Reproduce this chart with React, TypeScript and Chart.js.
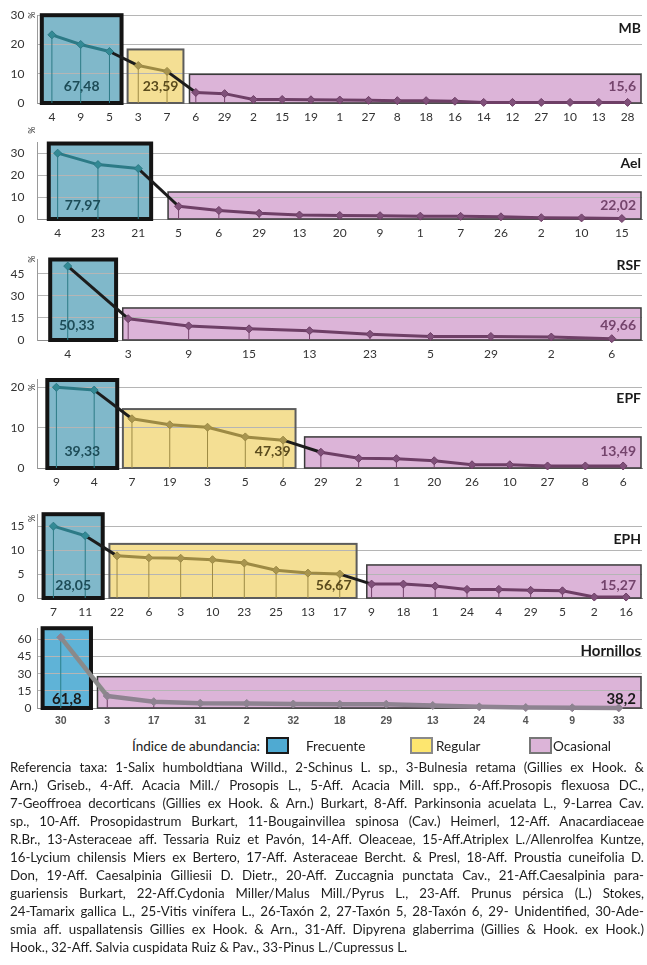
import React, { useEffect, useRef } from "react";
import { Chart, registerables } from "chart.js";
Chart.register(...registerables);

const W = 647;

// ---------------- DATA ----------------
const mbTaxa = ["4", "9", "5", "3", "7", "6", "29", "2", "15", "19", "1", "27", "8", "18", "16", "14", "12", "27", "10", "13", "28"];
const mbValues = [23.3, 20.0, 17.6, 12.8, 10.8, 3.6, 3.2, 1.2, 1.2, 1.1, 1.0, 0.9, 0.8, 0.8, 0.6, 0.2, 0.2, 0.2, 0.2, 0.2, 0.2];
const mbCounts = [3, 2, 16];
const mbTotals = ["67,48", "23,59", "15,6"];
const mbTicks = [0, 10, 20, 30];

const aelTaxa = ["4", "23", "21", "5", "6", "29", "13", "20", "9", "1", "7", "26", "2", "10", "15"];
const aelValues = [30.0, 24.8, 23.0, 5.8, 3.9, 2.6, 1.8, 1.6, 1.5, 1.3, 1.2, 1.0, 0.6, 0.5, 0.2];
const aelCounts = [3, 0, 12];
const aelTotals = ["77,97", "", "22,02"];
const aelTicks = [0, 10, 20, 30];

const rsfTaxa = ["4", "3", "9", "15", "13", "23", "5", "29", "2", "6"];
const rsfValues = [50.3, 14.5, 9.6, 7.6, 6.3, 3.9, 2.4, 2.4, 2.0, 0.9];
const rsfCounts = [1, 0, 9];
const rsfTotals = ["50,33", "", "49,66"];
const rsfTicks = [0, 15, 30, 45];

const epfTaxa = ["9", "4", "7", "19", "3", "5", "6", "29", "2", "1", "20", "26", "10", "27", "8", "6"];
const epfValues = [20.0, 19.3, 12.2, 10.7, 10.1, 7.7, 6.9, 3.9, 2.4, 2.3, 1.8, 0.8, 0.8, 0.5, 0.5, 0.5];
const epfCounts = [2, 5, 9];
const epfTotals = ["39,33", "47,39", "13,49"];
const epfTicks = [0, 10, 20];

const ephTaxa = ["7", "11", "22", "6", "3", "10", "23", "25", "13", "17", "9", "18", "1", "24", "4", "29", "5", "2", "16"];
const ephValues = [15.0, 13.0, 8.8, 8.4, 8.3, 8.0, 7.3, 5.8, 5.2, 5.0, 2.9, 2.9, 2.5, 1.8, 1.8, 1.6, 1.5, 0.2, 0.2];
const ephCounts = [2, 8, 9];
const ephTotals = ["28,05", "56,67", "15,27"];
const ephTicks = [0, 5, 10, 15];

const hoTaxa = ["30", "3", "17", "31", "2", "32", "18", "29", "13", "24", "4", "9", "33"];
const hoValues = [61.8, 10.5, 5.5, 4.2, 4.0, 3.5, 3.3, 3.3, 2.2, 1.0, 0.4, 0.2, 0.1];
const hoCounts = [1, 0, 12];
const hoTotals = ["61,8", "", "38,2"];
const hoTicks = [0, 15, 30, 45, 60];

const kinds = ["F", "R", "O"];
const legendTitle = "Índice de abundancia:";
const legendLabels = ["Frecuente", "Regular", "Ocasional"];

const captionLines = [
  "Referencia taxa: 1-Salix humboldtiana Willd., 2-Schinus L. sp., 3-Bulnesia retama (Gillies ex Hook. &",
  "Arn.) Griseb., 4-Aff. Acacia Mill./ Prosopis L., 5-Aff. Acacia Mill. spp., 6-Aff.Prosopis flexuosa DC.,",
  "7-Geoffroea decorticans (Gillies ex Hook. & Arn.) Burkart, 8-Aff. Parkinsonia acuelata L., 9-Larrea Cav.",
  "sp., 10-Aff. Prosopidastrum Burkart, 11-Bougainvillea spinosa (Cav.) Heimerl, 12-Aff. Anacardiaceae",
  "R.Br., 13-Asteraceae aff. Tessaria Ruiz et Pavón, 14-Aff. Oleaceae, 15-Aff.Atriplex L./Allenrolfea Kuntze,",
  "16-Lycium chilensis Miers ex Bertero, 17-Aff. Asteraceae Bercht. & Presl, 18-Aff. Proustia cuneifolia D.",
  "Don, 19-Aff. Caesalpinia Gilliesii D. Dietr., 20-Aff. Zuccagnia punctata Cav., 21-Aff.Caesalpinia para-",
  "guariensis Burkart, 22-Aff.Cydonia Miller/Malus Mill./Pyrus L., 23-Aff. Prunus pérsica (L.) Stokes,",
  "24-Tamarix gallica L., 25-Vitis vinífera L., 26-Taxón 2, 27-Taxón 5, 28-Taxón 6, 29- Unidentified, 30-Ade-",
  "smia aff. uspallatensis Gillies ex Hook. & Arn., 31-Aff. Dipyrena glaberrima (Gillies & Hook. ex Hook.)",
  "Hook., 32-Aff. Salvia cuspidata Ruiz & Pav., 33-Pinus L./Cupressus L.",
];

// ---------------- STYLES / LAYOUT ----------------
type KStyle = { fill: string; stroke: string; lw: number; line: string; point: string; label: string; drop: string };
const baseStyle: Record<string, KStyle> = {
  F: { fill: "#80b8ca", stroke: "#141414", lw: 4, line: "#2c7a86", point: "#338a95", label: "#1d4c57", drop: "#2c7a86" },
  R: { fill: "#f4df94", stroke: "#5c5c5c", lw: 2, line: "#9d8a44", point: "#a8954f", label: "#5a4b1d", drop: "#9d8a44" },
  O: { fill: "#dcb4d8", stroke: "#3a3a3a", lw: 1.5, line: "#6e3f66", point: "#80507a", label: "#74446c", drop: "#74446c" },
};
const hoStyle: Record<string, KStyle> = {
  F: { fill: "#5fb3d7", stroke: "#141414", lw: 4, line: "#8e8391", point: "#8e8391", label: "#1a1a1a", drop: "#2a7f8a" },
  R: baseStyle.R,
  O: { fill: "#dcb4d8", stroke: "#3a3a3a", lw: 1.5, line: "#8e8391", point: "#8e8391", label: "#1a1a1a", drop: "#6a3f62" },
};

type Panel = {
  name: string; taxa: string[]; values: number[]; counts: number[]; totals: string[]; ticks: number[];
  yMax: number; top: number; zero: number; titleAt: number; pctAt: number | null;
  boxes: (number | null)[][]; blueLabelX: number | null; lift: number; styles: Record<string, KStyle>;
  transition: string; lineWidth: number; tickPad: number; hornillos?: boolean;
};

const panels: Panel[] = [
  { name: "MB", taxa: mbTaxa, values: mbValues, counts: mbCounts, totals: mbTotals, ticks: mbTicks,
    yMax: 30, top: 13, zero: 103, titleAt: 25.4, pctAt: 30,
    boxes: [[-0.35, 2.42, 30], [2.63, 4.57, 18.3], [4.78, null, 9.8]], blueLabelX: null, lift: 17,
    styles: baseStyle, transition: "#1c1c1c", lineWidth: 3, tickPad: 13 },
  { name: "Ael", taxa: aelTaxa, values: aelValues, counts: aelCounts, totals: aelTotals, ticks: aelTicks,
    yMax: 35, top: 140, zero: 219, titleAt: 25.5, pctAt: 40.5,
    boxes: [[-0.22, 2.32, 34.4], [], [2.74, null, 12.3]], blueLabelX: 0.62, lift: 14,
    styles: baseStyle, transition: "#1c1c1c", lineWidth: 3, tickPad: 13 },
  { name: "RSF", taxa: rsfTaxa, values: rsfValues, counts: rsfCounts, totals: rsfTotals, ticks: rsfTicks,
    yMax: 55, top: 257, zero: 340, titleAt: 51, pctAt: 55,
    boxes: [[-0.29, 0.8, 54.8], [], [0.91, null, 21.8]], blueLabelX: 0.15, lift: 14.5,
    styles: baseStyle, transition: "#1c1c1c", lineWidth: 3, tickPad: 13 },
  { name: "EPF", taxa: epfTaxa, values: epfValues, counts: epfCounts, totals: epfTotals, ticks: epfTicks,
    yMax: 22, top: 377, zero: 468, titleAt: 17.2, pctAt: 20,
    boxes: [[-0.24, 1.61, 21.8], [1.76, 6.33, 14.6], [6.57, null, 7.7]], blueLabelX: null, lift: 16.5,
    styles: baseStyle, transition: "#1c1c1c", lineWidth: 3, tickPad: 13 },
  { name: "EPH", taxa: ephTaxa, values: ephValues, counts: ephCounts, totals: ephTotals, ticks: ephTicks,
    yMax: 17.5, top: 512, zero: 598, titleAt: 12.3, pctAt: 16.6,
    boxes: [[-0.31, 1.55, 17.5], [1.76, 9.53, 11.3], [9.85, null, 6.9]], blueLabelX: null, lift: 12.5,
    styles: baseStyle, transition: "#1c1c1c", lineWidth: 3, tickPad: 13 },
  { name: "Hornillos", taxa: hoTaxa, values: hoValues, counts: hoCounts, totals: hoTotals, ticks: hoTicks,
    yMax: 70, top: 628, zero: 708, titleAt: 49.6, pctAt: null,
    boxes: [[-0.39, 0.65, 69.8], [], [0.79, null, 27.4]], blueLabelX: null, lift: 9,
    styles: hoStyle, transition: "#8a8a8a", lineWidth: 4.5, tickPad: 6, hornillos: true },
];

const PAD_TOP = 18;
const X_AXIS_H = 24;

function kindIndex(p: Panel): string[] {
  const out: string[] = [];
  p.counts.forEach((n, g) => { for (let i = 0; i < n; i++) out.push(kinds[g]); });
  return out;
}

function boxRects(p: Panel, chart: any) {
  const { x, y } = chart.scales;
  const area = chart.chartArea;
  const rects: any[] = [];
  p.counts.forEach((n, g) => {
    if (n === 0) return;
    const b = p.boxes[g];
    const x0 = x.getPixelForValue(b[0] as number);
    const x1 = b[1] === null ? area.right - 1 : x.getPixelForValue(b[1] as number);
    const y0 = y.getPixelForValue(b[2] as number);
    const y1 = y.getPixelForValue(0);
    rects.push({ g, kind: kinds[g], x0, x1, y0, y1 });
  });
  return rects;
}

function PanelChart({ p }: { p: Panel }) {
  const ref = useRef<HTMLCanvasElement>(null);
  const canvasTop = p.top - PAD_TOP;
  const H = Math.round(PAD_TOP + (p.zero - p.top) + X_AXIS_H);
  useEffect(() => {
    const kAt = kindIndex(p);
    const st = p.styles;
    const deco = {
      id: "deco",
      beforeDraw(chart: any) {
        const ctx = chart.ctx;
        ctx.save();
        boxRects(p, chart).forEach((r) => {
          ctx.fillStyle = st[r.kind].fill;
          ctx.fillRect(r.x0, r.y0, r.x1 - r.x0, r.y1 - r.y0);
        });
        ctx.restore();
      },
      beforeDatasetsDraw(chart: any) {
        const ctx = chart.ctx;
        const { x, y } = chart.scales;
        ctx.save();
        boxRects(p, chart).forEach((r) => {
          ctx.strokeStyle = st[r.kind].stroke;
          ctx.lineWidth = st[r.kind].lw;
          ctx.strokeRect(r.x0, r.y0, r.x1 - r.x0, r.y1 - r.y0);
        });
        p.values.forEach((v, i) => {
          const px = x.getPixelForValue(i);
          ctx.strokeStyle = st[kAt[i]].drop;
          ctx.lineWidth = 1;
          ctx.beginPath();
          ctx.moveTo(px, y.getPixelForValue(v));
          ctx.lineTo(px, y.getPixelForValue(0));
          ctx.stroke();
        });
        ctx.restore();
      },
      afterDatasetsDraw(chart: any) {
        const ctx = chart.ctx;
        const { x, y } = chart.scales;
        const area = chart.chartArea;
        ctx.save();
        ctx.textBaseline = "middle";
        boxRects(p, chart).forEach((r) => {
          const txt = p.totals[r.g];
          ctx.fillStyle = st[r.kind].label;
          ctx.font = p.hornillos ? "bold 15px Lato" : "bold 14px Lato";
          const ly = y.getPixelForValue(0) - p.lift;
          if (r.kind === "F") {
            ctx.textAlign = "center";
            const lx = p.blueLabelX !== null ? x.getPixelForValue(p.blueLabelX) : (r.x0 + r.x1) / 2;
            ctx.fillText(txt, lx, ly);
          } else {
            ctx.textAlign = "right";
            ctx.fillText(txt, r.x1 - 5, ly);
          }
        });
        ctx.fillStyle = "#1a1a1a";
        ctx.font = p.hornillos ? "bold 15px Lato" : "bold 14px Lato";
        ctx.textAlign = "right";
        ctx.fillText(p.name, area.right - 1, y.getPixelForValue(p.titleAt));
        if (p.pctAt !== null) {
          ctx.save();
          ctx.translate(area.left - 5, y.getPixelForValue(p.pctAt));
          ctx.rotate(-Math.PI / 2);
          ctx.font = "9px Lato";
          ctx.fillStyle = "#333";
          ctx.textAlign = "center";
          ctx.fillText("%", 0, 0);
          ctx.restore();
        }
        ctx.restore();
      },
    };
    const chart = new Chart(ref.current as HTMLCanvasElement, {
      type: "line",
      data: {
        labels: p.taxa,
        datasets: [
          {
            data: p.values,
            borderWidth: p.lineWidth,
            borderColor: st[kAt[0]].line,
            pointStyle: "rectRot",
            pointRadius: 4,
            pointBorderWidth: 1,
            pointBackgroundColor: kAt.map((k) => st[k].point),
            pointBorderColor: kAt.map((k) => st[k].line),
            tension: 0,
            clip: 8,
            segment: {
              borderColor: (c: any) =>
                kAt[c.p0DataIndex] === kAt[c.p1DataIndex] ? st[kAt[c.p0DataIndex]].line : p.transition,
            },
          } as any,
        ],
      },
      options: {
        responsive: false,
        animation: false,
        layout: { padding: { top: PAD_TOP, right: 5, left: 0, bottom: 0 } },
        plugins: { legend: { display: false }, tooltip: { enabled: false } },
        scales: {
          x: {
            type: "category",
            offset: true,
            grid: { display: false, drawTicks: false },
            border: { display: true, color: "#8c8c8c", width: 1 },
            ticks: {
              autoSkip: false,
              maxRotation: 0,
              padding: 7,
              color: p.hornillos ? "#555" : "#333",
              font: p.hornillos
                ? { family: "Liberation Sans", size: 10.5, weight: "bold" }
                : { family: "Lato", size: 12 },
            },
            afterFit: (s: any) => { s.height = X_AXIS_H; },
          },
          y: {
            min: 0,
            max: p.yMax,
            grid: { color: "#b5b5b5", lineWidth: 1, drawTicks: false },
            border: { display: true, color: "#9a9a9a", width: 1 },
            ticks: { padding: p.tickPad, color: "#333", font: { family: "Lato", size: 12 } },
            afterBuildTicks: (s: any) => { s.ticks = p.ticks.map((v) => ({ value: v })); },
            afterFit: (s: any) => { s.width = 37.5; },
          },
        },
      } as any,
      plugins: [deco],
    });
    return () => chart.destroy();
  }, []);
  return (
    <canvas
      ref={ref}
      width={W}
      height={H}
      style={{ position: "absolute", left: 0, top: canvasTop, width: W, height: H }}
    />
  );
}

const swatches = [
  { left: 266, fill: "#4faad2", border: "#1a1a1a", textLeft: 306 },
  { left: 410, fill: "#fde66f", border: "#8a8a8a", textLeft: 436 },
  { left: 529, fill: "#dcb4d8", border: "#777", textLeft: 553 },
];

export default function App() {
  return (
    <div style={{ position: "absolute", left: 0, top: 0, width: W, height: 965, background: "#fff", fontFamily: "Lato" }}>
      {panels.map((p) => (
        <PanelChart key={p.name} p={p} />
      ))}
      <div style={{ position: "absolute", left: 132, top: 737, height: 18, lineHeight: "18px", fontSize: 13.5, color: "#222", whiteSpace: "nowrap" }}>
        {legendTitle}
      </div>
      {swatches.map((s, i) => (
        <React.Fragment key={i}>
          <div style={{ position: "absolute", left: s.left, top: 737, width: 19, height: 13, background: s.fill, border: `2px solid ${s.border}` }} />
          <div style={{ position: "absolute", left: s.textLeft, top: 737, height: 18, lineHeight: "18px", fontSize: 13.5, color: "#222", whiteSpace: "nowrap" }}>
            {legendLabels[i]}
          </div>
        </React.Fragment>
      ))}
      {captionLines.map((line, i) => (
        <div
          key={i}
          style={{
            position: "absolute",
            left: 10,
            top: 758 + i * 18,
            width: 634,
            height: 18,
            lineHeight: "18px",
            fontSize: 13.3,
            color: "#1e1e1e",
            whiteSpace: "nowrap",
            textAlign: "justify",
            textAlignLast: i === captionLines.length - 1 ? "left" : "justify",
          } as any}
        >
          {line}
        </div>
      ))}
    </div>
  );
}
